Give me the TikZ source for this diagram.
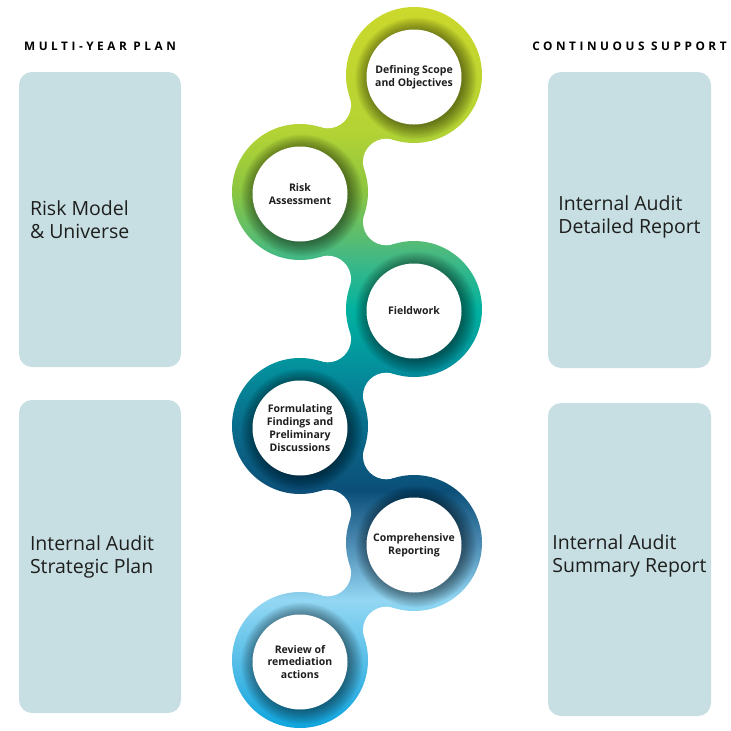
\documentclass[tikz,border=0pt]{standalone}
\usepackage{fontspec}
\setmainfont{Open Sans}
\newfontfamily\trackfont[LetterSpace=30,BoldFont={Open Sans Bold}]{Open Sans}
\usetikzlibrary{calc,positioning}
\definecolor{chaina}{HTML}{0AA3DC}
\definecolor{chainb}{HTML}{58BEE8}
\definecolor{chainc}{HTML}{93D7F3}
\definecolor{chaind}{HTML}{4E8DB5}
\definecolor{chaine}{HTML}{0B4F78}
\definecolor{chainf}{HTML}{0A6A8A}
\definecolor{chaing}{HTML}{048E9C}
\definecolor{chainh}{HTML}{00B2A0}
\definecolor{chaini}{HTML}{46B982}
\definecolor{chainj}{HTML}{8CC640}
\definecolor{chaink}{HTML}{B4D334}
\definecolor{chainl}{HTML}{CDD82B}
\pgfdeclareverticalshading{chainfill}{100bp}{color(0bp)=(chaina); color(25bp)=(chaina);
  color(29.86bp)=(chainb); color(33.96bp)=(chainc); color(37.72bp)=(chaind);
  color(41.48bp)=(chaine); color(45.59bp)=(chainf); color(49.69bp)=(chaing);
  color(53.8bp)=(chainh); color(57.56bp)=(chaini); color(62bp)=(chainj);
  color(66.11bp)=(chaink); color(75bp)=(chainl); color(100bp)=(chainl)}
\begin{document}
\begin{tikzpicture}[x=1pt,y=-1pt]
\tikzstyle{panel}=[fill=panelfill,rounded corners=13pt,inner sep=0pt]
\tikzstyle{paneltext}=[inner sep=0pt,align=left,text=inkcolor,font=\fontsize{19.5}{23}\selectfont]
\tikzstyle{heading}=[inner sep=0pt,text=black,font=\trackfont\bfseries\fontsize{11.8}{13}\selectfont]
\tikzstyle{stepdisc}=[circle,fill=white,minimum size=95pt,inner sep=0pt,align=center,text=inkcolor,font=\bfseries\fontsize{10.5}{12.8}\selectfont]
\tikzstyle{chain}=[shading=chainfill]
\tikzstyle{shadow}=[black,opacity=0.03]
\definecolor{panelfill}{RGB}{199,223,226}
\definecolor{inkcolor}{RGB}{30,30,30}
\useasboundingbox (0,0) rectangle (731,731);
\coordinate (c1) at (414,75);
\coordinate (c2) at (300,192);
\coordinate (c3) at (414,309);
\coordinate (c4) at (300,426);
\coordinate (c5) at (414,543);
\coordinate (c6) at (300,660);
\foreach \p/\q in {1/2,2/3,3/4,4/5,5/6}{
  \begin{scope}
  \clip (c\p) -- ($(c\p)!0.5!(c\q)!41pt!90:(c\q)$) -- (c\q) -- ($(c\p)!0.5!(c\q)!41pt!-90:(c\q)$) -- cycle;
  \shade[chain] (0,0) rectangle (731,731);
  \end{scope}
  \fill[white] ($(c\p)!0.5!(c\q)!41pt!90:(c\q)$) circle (23.4pt);
  \fill[white] ($(c\p)!0.5!(c\q)!41pt!-90:(c\q)$) circle (23.4pt);
}
\foreach \i in {1,...,6}{
  \begin{scope}
  \clip (c\i) circle (68pt);
  \shade[chain] (0,0) rectangle (731,731);
  \end{scope}
  \foreach \k in {1,...,16}
    \fill[shadow] ($(c\i)+(2,3.5)$) circle [radius={46.5pt+\k*0.9pt}];
}
\node[stepdisc] (scope) at ($(c1)+(0,2)$) {Defining Scope\\and Objectives};
\node[stepdisc] (risk) at ($(c2)+(0,2)$) {Risk\\Assessment};
\node[stepdisc] (field) at ($(c3)+(0,2)$) {Fieldwork};
\node[stepdisc] (findings) at ($(c4)+(0,2)$) {Formulating\\Findings and\\Preliminary\\Discussions};
\node[stepdisc] (report) at ($(c5)+(0,2)$) {Comprehensive\\Reporting};
\node[stepdisc] (remedy) at ($(c6)+(0,2)$) {Review of\\remediation\\actions};
\node[panel,minimum width=162pt,minimum height=295pt] (riskpanel) at (100,219.5) {};
\node[panel,minimum width=162pt,minimum height=313pt] (stratpanel) at (100,556.5) {};
\node[panel,minimum width=163pt,minimum height=296pt] (detpanel) at (629.5,220) {};
\node[panel,minimum width=163pt,minimum height=313pt] (sumpanel) at (629.5,559.5) {};
\node[heading,above=21pt of riskpanel] (planhead) {MULTI-YEAR PLAN};
\node[heading,above=21pt of detpanel] (supporthead) {CONTINUOUS SUPPORT};
\node[paneltext,anchor=west] (risktext) at ([xshift=11pt]riskpanel.west) {Risk Model\\\& Universe};
\node[paneltext,anchor=west] (strattext) at ([xshift=11pt]stratpanel.west) {Internal Audit\\Strategic Plan};
\node[paneltext] (dettext) at ([yshift=3pt]detpanel.center) {Internal Audit\\Detailed Report};
\node[paneltext] (sumtext) at ([yshift=4pt]sumpanel.center) {Internal Audit\\Summary Report};
\end{tikzpicture}
\end{document}
